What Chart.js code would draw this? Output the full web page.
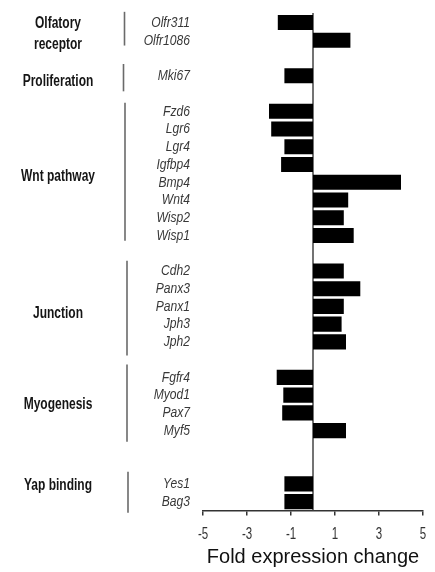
<!DOCTYPE html>
<html>
<head>
<meta charset="utf-8">
<script src="https://cdn.jsdelivr.net/npm/chart.js@4/dist/chart.umd.min.js"></script>
<style>
  html, body { margin: 0; padding: 0; background: #fff; }
  #c { display: block; }
</style>
</head>
<body>
<canvas id="c" width="435" height="572"></canvas>
<script>
// Gene groups, gene names and fold expression change per gene
const groupNames = [['Olfatory', 'receptor'], ['Proliferation'], ['Wnt pathway'], ['Junction'], ['Myogenesis'], ['Yap binding']];
const olfactoryGenes = ['Olfr311', 'Olfr1086'];
const olfactoryFold = [-1.6, 1.7];
const proliferationGenes = ['Mki67'];
const proliferationFold = [-1.3];
const wntGenes = ['Fzd6', 'Lgr6', 'Lgr4', 'Igfbp4', 'Bmp4', 'Wnt4', 'Wisp2', 'Wisp1'];
const wntFold = [-2.0, -1.9, -1.3, -1.45, 4.0, 1.6, 1.4, 1.85];
const junctionGenes = ['Cdh2', 'Panx3', 'Panx1', 'Jph3', 'Jph2'];
const junctionFold = [1.4, 2.15, 1.4, 1.3, 1.5];
const myogenesisGenes = ['Fgfr4', 'Myod1', 'Pax7', 'Myf5'];
const myogenesisFold = [-1.65, -1.35, -1.4, 1.5];
const yapGenes = ['Yes1', 'Bag3'];
const yapFold = [-1.3, -1.3];
const xTicks = [-5, -3, -1, 1, 3, 5];

const groupGenes = [olfactoryGenes, proliferationGenes, wntGenes, junctionGenes, myogenesisGenes, yapGenes];
const groupFold = [olfactoryFold, proliferationFold, wntFold, junctionFold, myogenesisFold, yapFold];

// Layout: blank rows after each group, label / bracket placement in row units
const blankRowsAfter = [1, 1, 1, 1, 2, 0];
const labelRowOffset = [0.65, 0.32, 3.7, 2.4, 1.55, 0.12];
const bracketRows = [[-0.6, 1.3], [-0.66, 0.88], [-0.47, 7.3], [-0.57, 4.76], [-0.73, 3.63], [-0.68, 1.62]];
const bracketX = [124.5, 123.5, 125, 127, 127, 128];
const groupLabelX = 58;

// Build row list with blank spacer rows between groups
const rowLabels = [];
const rowValues = [];
const groupStart = [];
groupGenes.forEach((genes, g) => {
  groupStart.push(rowLabels.length);
  genes.forEach((name, i) => { rowLabels.push(name); rowValues.push(groupFold[g][i]); });
  for (let k = 0; k < blankRowsAfter[g]; k++) { rowLabels.push(''); rowValues.push(null); }
});

const sans = "'Liberation Sans', Arial, sans-serif";

// Horizontally condensed text
function condensed(ctx, text, x, y, font, color, align, sx) {
  ctx.save();
  ctx.font = font;
  ctx.fillStyle = color;
  ctx.textAlign = align;
  ctx.textBaseline = 'middle';
  ctx.translate(x, y);
  ctx.scale(sx, 1);
  ctx.fillText(text, 0, 0);
  ctx.restore();
}

const annotations = {
  id: 'groupAnnotations',
  beforeDatasetsDraw(chart) {
    const { ctx, chartArea, scales } = chart;
    const x0 = scales.x.getPixelForValue(0);
    ctx.save();
    ctx.strokeStyle = '#444';
    ctx.lineWidth = 1.5;
    ctx.beginPath();
    ctx.moveTo(x0, chartArea.top - 0.5);
    ctx.lineTo(x0, chartArea.bottom);
    ctx.stroke();
    ctx.restore();
  },
  afterDraw(chart) {
    const { ctx, scales } = chart;
    const x = scales.x;
    const y = scales.y;

    // gene names on the category axis
    y.ticks.forEach((t, i) => {
      const label = y.getLabelForValue(t.value);
      if (!label) return;
      condensed(ctx, label, x.left - 13, y.getPixelForTick(i), 'italic 15.5px ' + sans, '#383838', 'right', 0.78);
    });

    // value axis tick labels
    x.ticks.forEach((t, i) => {
      condensed(ctx, String(t.value), x.getPixelForTick(i), x.top + 24.5, '16px ' + sans, '#333', 'center', 0.72);
    });

    ctx.save();
    groupNames.forEach((lines, g) => {
      const start = groupStart[g];
      // bracket line
      ctx.strokeStyle = '#6a6a6a';
      ctx.lineWidth = 1.6;
      ctx.beginPath();
      ctx.moveTo(bracketX[g], y.getPixelForValue(start + bracketRows[g][0]));
      ctx.lineTo(bracketX[g], y.getPixelForValue(start + bracketRows[g][1]));
      ctx.stroke();
      // group label
      const cy = y.getPixelForValue(start + labelRowOffset[g]);
      const lh = 21;
      lines.forEach((t, i) => {
        condensed(ctx, t, groupLabelX, cy + (i - (lines.length - 1) / 2) * lh, 'bold 16px ' + sans, '#151515', 'center', 0.75);
      });
    });
    ctx.restore();
  }
};

new Chart(document.getElementById('c'), {
  type: 'bar',
  data: {
    labels: rowLabels,
    datasets: [{
      data: rowValues,
      backgroundColor: '#000',
      borderWidth: 0,
      barPercentage: 0.85,
      categoryPercentage: 1
    }]
  },
  options: {
    indexAxis: 'y',
    responsive: false,
    animation: false,
    devicePixelRatio: 1,
    layout: { padding: { top: 12, right: 12, left: 0, bottom: 0 } },
    plugins: { legend: { display: false }, tooltip: { enabled: false } },
    scales: {
      x: {
        type: 'linear',
        min: -5,
        max: 5,
        afterBuildTicks: s => { s.ticks = xTicks.map(v => ({ value: v })); },
        afterFit: s => { s.height = 61.5; },
        grid: { display: true, drawOnChartArea: false, drawTicks: true, tickLength: 5, color: '#333', lineWidth: 1.5 },
        border: { display: true, color: '#333', width: 1.5 },
        ticks: { padding: 9, color: 'rgba(0,0,0,0)', autoSkip: false, maxRotation: 0, font: { family: sans, size: 2 } },
        title: {
          display: true,
          text: 'Fold expression change',
          color: '#111',
          font: { family: sans, size: 20 },
          padding: { top: 0, bottom: 3 }
        }
      },
      y: {
        afterFit: s => { s.width = 203; },
        grid: { display: false, drawTicks: false },
        border: { display: false },
        ticks: { autoSkip: false, padding: 13, color: 'rgba(0,0,0,0)', font: { family: sans, size: 1 } }
      }
    }
  },
  plugins: [annotations]
});
</script>
</body>
</html>
